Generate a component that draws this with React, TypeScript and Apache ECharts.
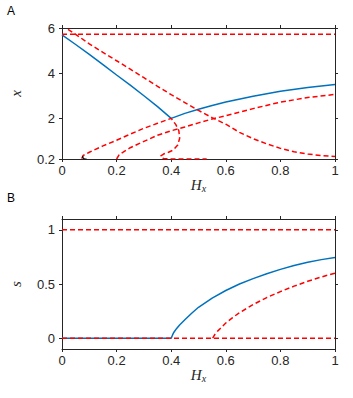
import React, { useEffect, useRef } from "react";
import * as echarts from "echarts";

// ---- Data ----
const topYTicks = [0.2, 2, 4, 6];
const botYTicks = [0, 0.5, 1];

// Panel A: x vs Hx
const blueAHx = [0, 0.05, 0.1, 0.15, 0.2, 0.25, 0.3, 0.35, 0.4, 0.45, 0.5, 0.55, 0.6, 0.7, 0.8, 0.9, 1.0];
const blueAVal = [5.7, 5.27, 4.83, 4.38, 3.92, 3.47, 3.0, 2.52, 2.0, 2.22, 2.4, 2.57, 2.72, 2.98, 3.2, 3.37, 3.5];

const redTopHx = [0, 1];
const redTopVal = [5.72, 5.72];

const redDescHx = [0.022, 0.05, 0.1, 0.15, 0.2, 0.25, 0.3, 0.35, 0.4, 0.45, 0.5, 0.55, 0.6, 0.65, 0.7, 0.75, 0.8, 0.85, 0.9, 0.95, 1.0];
const redDescVal = [5.94, 5.72, 5.3, 4.92, 4.55, 4.18, 3.8, 3.42, 3.05, 2.7, 2.35, 2.03, 1.74, 1.38, 1.1, 0.87, 0.67, 0.52, 0.42, 0.35, 0.31];

const redLoopHx = [0.072, 0.078, 0.1, 0.15, 0.2, 0.25, 0.3, 0.35, 0.4, 0.417, 0.428, 0.431, 0.424, 0.408, 0.39, 0.372, 0.362, 0.363, 0.372, 0.4, 0.45, 0.53];
const redLoopVal = [0.22, 0.36, 0.5, 0.78, 1.03, 1.3, 1.56, 1.78, 2.0, 1.72, 1.45, 1.12, 0.82, 0.6, 0.5, 0.42, 0.34, 0.27, 0.22, 0.2, 0.2, 0.2];

const redRiseHx = [0.2, 0.21, 0.25, 0.3, 0.35, 0.4, 0.45, 0.5, 0.55, 0.6, 0.7, 0.8, 0.9, 1.0];
const redRiseVal = [0.2, 0.4, 0.7, 0.98, 1.25, 1.45, 1.62, 1.8, 1.97, 2.12, 2.43, 2.72, 2.92, 3.06];

const blackMarkHx = [0.075, 0.077, 0.082, 0.09];
const blackMarkVal = [0.34, 0.25, 0.2, 0.2];

// Panel B: s vs Hx
const blueBHx = [0, 0.4, 0.405, 0.41, 0.42, 0.43, 0.45, 0.475, 0.5, 0.55, 0.6, 0.65, 0.7, 0.75, 0.8, 0.85, 0.9, 0.95, 1.0];
const blueBVal = [0, 0, 0.03, 0.055, 0.09, 0.12, 0.17, 0.23, 0.285, 0.37, 0.44, 0.5, 0.55, 0.595, 0.635, 0.67, 0.7, 0.725, 0.745];

const redOneHx = [0, 1];
const redOneVal = [1, 1];
const redZeroHx = [0, 1];
const redZeroVal = [0, 0];

const redSHx = [0.552, 0.56, 0.57, 0.58, 0.6, 0.625, 0.65, 0.7, 0.75, 0.8, 0.85, 0.9, 0.95, 1.0];
const redSVal = [0, 0.035, 0.065, 0.09, 0.14, 0.19, 0.235, 0.31, 0.375, 0.43, 0.48, 0.525, 0.565, 0.6];

const zip = (a: number[], b: number[]) => a.map((v, i) => [v, b[i]]);

const SANS = "'Liberation Sans', Arial, Helvetica, sans-serif";
const SERIF = "'Liberation Serif', 'DejaVu Serif', serif";
const AX = "#262626";
const BLUE = "#0072bd";
const RED = "#ff0000";
const LABEL_SIZE = 13;

const hxName = {
  name: "{h|H}{s|x}",
  nameLocation: "middle" as const,
  nameGap: 18,
  nameTextStyle: {
    rich: {
      h: { fontFamily: SERIF, fontStyle: "italic", fontSize: 15, color: AX, lineHeight: 16 },
      s: { fontFamily: SERIF, fontStyle: "italic", fontSize: 10, color: AX, lineHeight: 6, verticalAlign: "bottom" },
    },
  },
};

function xBottom(gridIndex: number) {
  return {
    type: "value",
    gridIndex,
    min: 0,
    max: 1,
    interval: 0.2,
    position: "bottom",
    axisLine: { show: true, onZero: false, lineStyle: { color: AX, width: 1 } },
    axisTick: { show: true, inside: false, length: 3, lineStyle: { color: AX } },
    axisLabel: { show: true, margin: 5, color: AX, fontSize: LABEL_SIZE, fontFamily: SANS },
    splitLine: { show: false },
    ...hxName,
  };
}
function xTop(gridIndex: number) {
  return {
    type: "value",
    gridIndex,
    min: 0,
    max: 1,
    interval: 0.2,
    position: "top",
    axisLine: { show: true, onZero: false, lineStyle: { color: AX, width: 1 } },
    axisTick: { show: true, inside: false, length: 3, lineStyle: { color: AX } },
    axisLabel: { show: false },
    splitLine: { show: false },
  };
}
function yAxis(gridIndex: number, min: number, max: number, ticks: number[], pos: string, name?: string) {
  const left = pos === "left";
  return {
    type: "value",
    gridIndex,
    min,
    max,
    position: pos,
    axisLine: { show: true, onZero: false, lineStyle: { color: AX, width: 1 } },
    axisTick: { show: true, inside: false, length: 3, customValues: ticks, lineStyle: { color: AX } },
    axisLabel: {
      show: left,
      customValues: ticks,
      margin: 7,
      color: AX,
      fontSize: LABEL_SIZE,
      fontFamily: SANS,
      showMinLabel: true,
      showMaxLabel: true,
    },
    splitLine: { show: false },
    ...(name
      ? {
          name,
          nameLocation: "middle",
          nameRotate: 90,
          nameGap: 39,
          nameTextStyle: { fontFamily: SERIF, fontStyle: "italic", fontSize: 15, color: AX },
        }
      : {}),
  };
}

function line(xi: number, yi: number, data: number[][], color: string, dashed: boolean, width = 1.5) {
  return {
    type: "line",
    xAxisIndex: xi,
    yAxisIndex: yi,
    data,
    showSymbol: false,
    symbol: "none",
    smooth: false,
    silent: true,
    lineStyle: { color, width, type: dashed ? [5, 3] : "solid" },
  };
}

export default function App() {
  const ref = useRef<HTMLDivElement>(null);
  useEffect(() => {
    if (!ref.current) return;
    const chart = echarts.init(ref.current, null, { renderer: "svg" });
    chart.setOption({
      animation: false,
      backgroundColor: "#ffffff",
      grid: [
        { left: 52, top: 28, width: 283, height: 131 },
        { left: 52, top: 219, width: 283, height: 130 },
      ],
      xAxis: [xBottom(0), xTop(0), xBottom(1), xTop(1)],
      yAxis: [
        yAxis(0, 0.2, 6, topYTicks, "left", "x"),
        yAxis(0, 0.2, 6, topYTicks, "right"),
        yAxis(1, -0.1, 1.1, botYTicks, "left", "s"),
        yAxis(1, -0.1, 1.1, botYTicks, "right"),
      ],
      graphic: [
        { type: "text", left: 7, top: 5, style: { text: "A", font: `12px ${SANS}`, fill: "#000" } },
        { type: "text", left: 7, top: 192, style: { text: "B", font: `12px ${SANS}`, fill: "#000" } },
      ],
      series: [
        line(0, 0, zip(blueAHx, blueAVal), BLUE, false),
        line(0, 0, zip(redTopHx, redTopVal), RED, true),
        line(0, 0, zip(redDescHx, redDescVal), RED, true),
        line(0, 0, zip(redLoopHx, redLoopVal), RED, true),
        line(0, 0, zip(redRiseHx, redRiseVal), RED, true),
        line(0, 0, zip(blackMarkHx, blackMarkVal), "#000000", false, 1.2),
        line(2, 2, zip(blueBHx, blueBVal), BLUE, false),
        line(2, 2, zip(redOneHx, redOneVal), RED, true),
        line(2, 2, zip(redZeroHx, redZeroVal), RED, true),
        line(2, 2, zip(redSHx, redSVal), RED, true),
      ],
    });
    return () => chart.dispose();
  }, []);
  return (
    <div
      ref={ref}
      style={{ position: "fixed", left: 0, top: 0, width: 353, height: 398, background: "#fff" }}
    />
  );
}
